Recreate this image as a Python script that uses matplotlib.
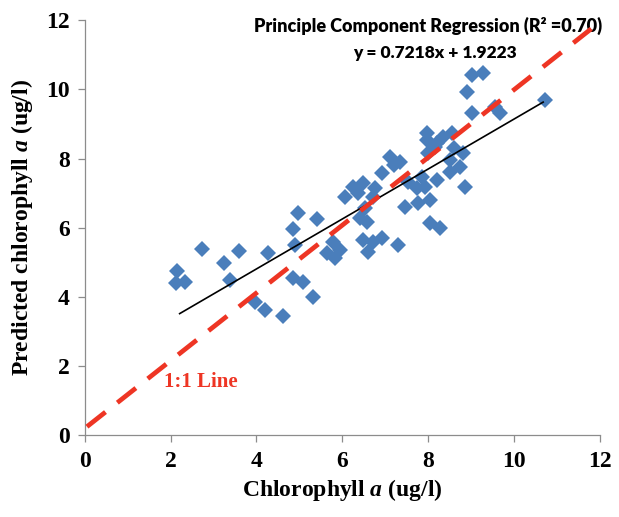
import numpy as np
import matplotlib
matplotlib.use('Agg')
import matplotlib.pyplot as plt

plt.rcParams['mathtext.fontset'] = 'custom'
plt.rcParams['mathtext.bfit'] = 'Liberation Serif:bold:italic'
plt.rcParams['mathtext.it'] = 'Liberation Serif:bold:italic'
plt.rcParams['mathtext.rm'] = 'Liberation Serif:bold'

chl_obs = [2.14, 2.12, 2.33, 2.73, 3.24, 3.38, 3.59, 3.96, 4.20, 4.27, 4.62,
           4.97, 5.41, 4.85, 4.90, 4.85, 5.08, 5.31, 5.78, 5.94, 5.64, 5.83,
           6.48, 6.60, 6.57, 6.36, 6.71, 7.11, 7.34, 6.92, 7.97, 8.21, 7.99,
           6.25, 6.48, 6.76, 7.53, 7.74, 7.86, 8.21, 7.46, 7.76, 8.04, 6.41,
           6.53, 6.71, 6.92, 7.30, 8.04, 8.28, 9.02, 8.16, 8.34, 8.55, 7.97,
           8.81, 8.74, 8.51, 8.86, 7.93, 9.56, 9.02, 9.28, 8.90, 9.67, 10.72,
           8.51, 6.06, 7.20, 8.60]
chl_pred = [4.75, 4.41, 4.44, 5.39, 4.99, 4.49, 5.33, 3.86, 3.63, 5.27, 3.45,
            6.43, 6.26, 5.97, 5.51, 4.55, 4.44, 4.00, 5.59, 5.36, 5.27, 5.13,
            5.65, 5.30, 6.17, 7.01, 6.89, 8.05, 7.90, 7.59, 8.54, 8.45, 8.16,
            7.18, 7.30, 7.15, 7.33, 7.15, 7.47, 7.38, 6.60, 6.72, 6.81, 6.29,
            6.58, 5.59, 5.71, 5.51, 6.14, 6.00, 9.32, 8.34, 8.63, 8.74, 8.74,
            8.16, 7.76, 7.62, 7.18, 7.18, 9.49, 10.42, 10.48, 9.93, 9.32, 9.70,
            7.96, 6.90, 7.80, 8.30]

# fitted regression y = 0.7218x + 1.9223 over the data range
fit_x = [2.21, 10.68]
slope, intercept = 0.7218, 1.9223
# 1:1 reference line
one_x = [0.05, 11.8]
one_y = [0.25, 11.75]

xticks = [0, 2, 4, 6, 8, 10, 12]
yticks = [0, 2, 4, 6, 8, 10, 12]

fig = plt.figure(figsize=(6.19, 5.17), dpi=100)
ax = fig.add_axes([0.137, 0.158, 0.832, 0.803])

ax.plot(chl_obs, chl_pred, linestyle='none', marker='D', markersize=8.6,
        color='#4a7ebb', markeredgewidth=0, zorder=2)
fx = np.array(fit_x)
ax.plot(fx, slope*fx+intercept, color='black', lw=1.2, zorder=3)
ax.plot(one_x, one_y, color='#ee3524', lw=3.4, dashes=(5.0, 3.2),
        solid_capstyle='butt', zorder=4)

ax.set_xlim(0, 12)
ax.set_ylim(0, 12)
ax.set_xticks(xticks)
ax.set_yticks(yticks)
serif = {'family': 'Liberation Serif', 'weight': 'bold'}
ax.set_xticklabels([str(t) for t in xticks], fontdict=dict(serif, size=17))
ax.set_yticklabels([str(t) for t in yticks], fontdict=dict(serif, size=17))
for s in ['top', 'right']:
    ax.spines[s].set_visible(False)
for s in ['left', 'bottom']:
    ax.spines[s].set_color('#8c8c8c')
    ax.spines[s].set_linewidth(0.9)
ax.tick_params(direction='out', length=5, width=0.9, color='#8c8c8c', pad=6)

ax.set_xlabel('Chlorophyll $\\mathit{a}$ (ug/l)', fontdict=dict(serif, size=17),
              labelpad=4)
ax.set_ylabel('Predicted chlorophyll $\\mathit{a}$ (ug/l)',
              fontdict=dict(serif, size=17), labelpad=8)

ax.text(1.005, 0.985, 'Principle Component Regression (R\u00b2 =0.70)',
        transform=ax.transAxes, ha='right', va='center', family='Lato',
        weight='heavy', size=13)
ax.text(0.68, 0.92, 'y = 0.7218x + 1.9223', transform=ax.transAxes,
        ha='center', va='center', family='Lato', weight='heavy', size=12.5)
ax.text(1.85, 1.55, '1:1 Line', color='#ee3524', family='Liberation Serif',
        weight='bold', size=15, ha='left', va='center')

fig.savefig('out.png', dpi=100)
